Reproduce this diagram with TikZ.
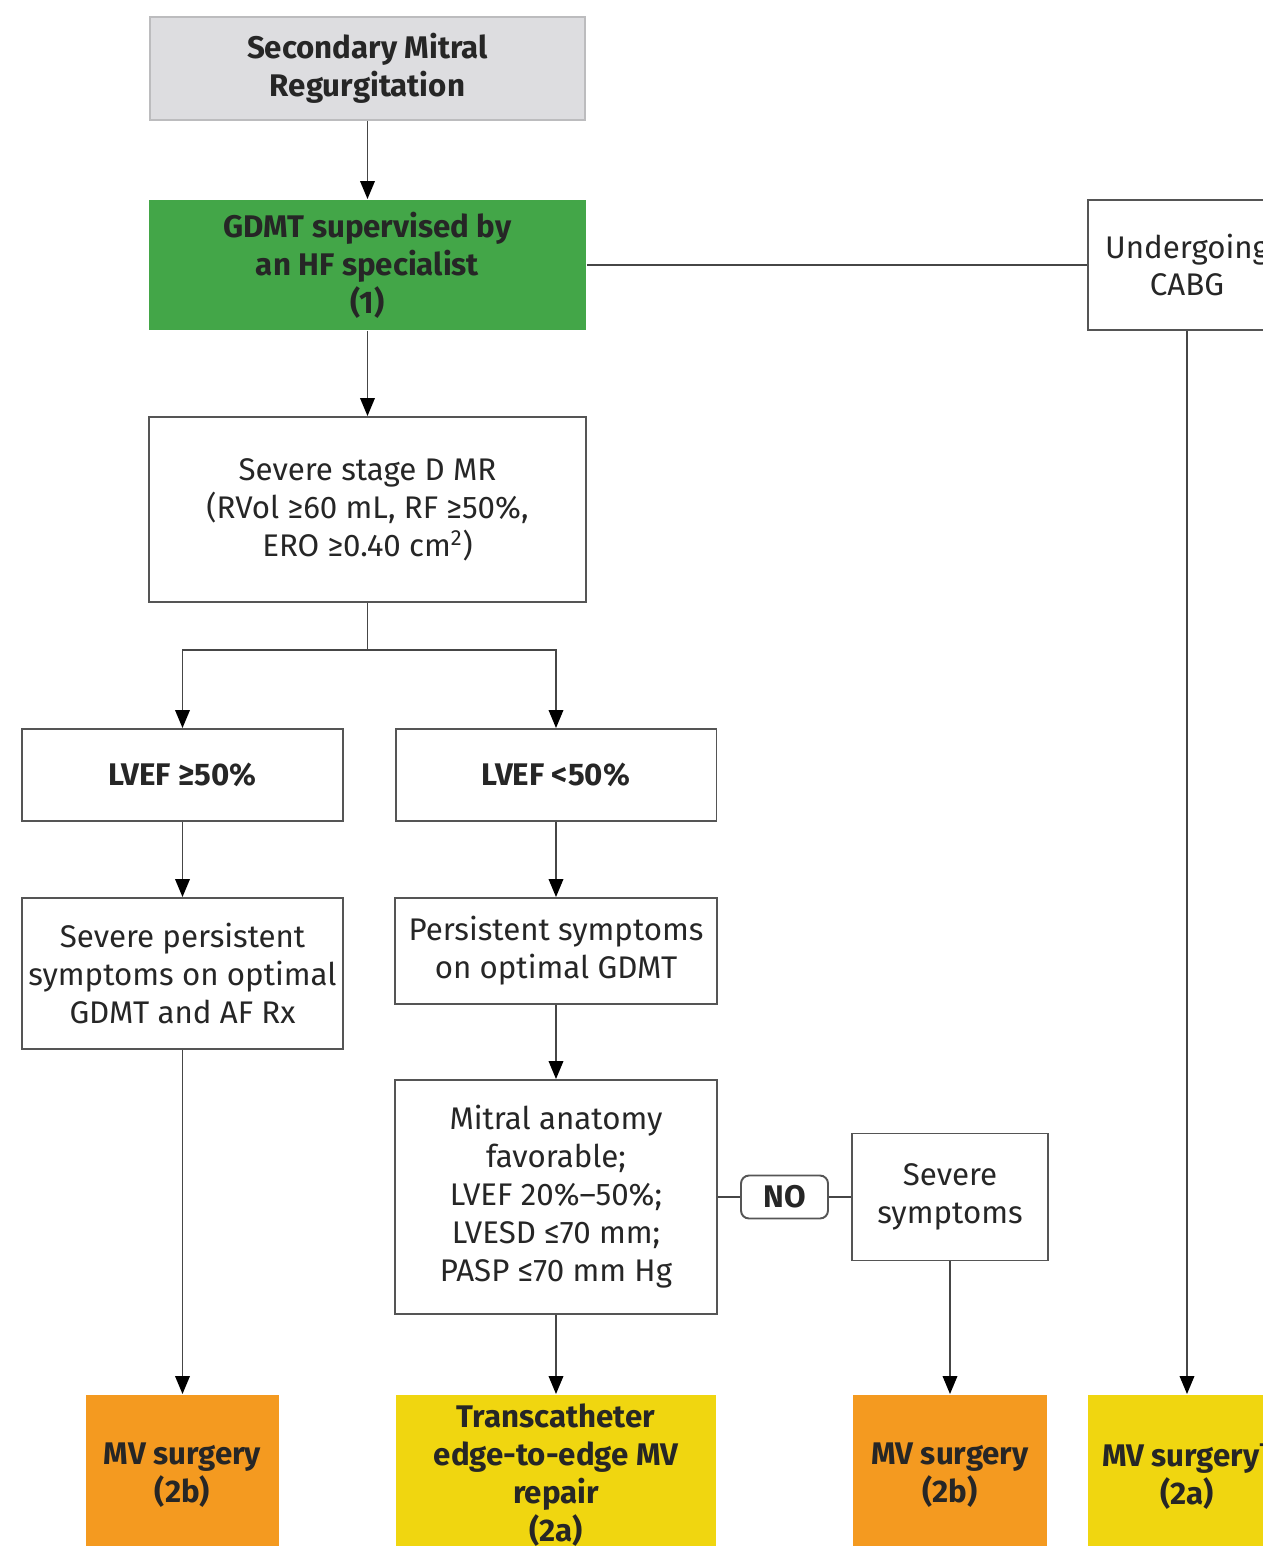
\documentclass[tikz,border=0pt]{standalone}
\usepackage{fontspec}
\setmainfont{Fira Sans}
\usetikzlibrary{arrows.meta}

\definecolor{smrgray}{RGB}{221,221,224}
\definecolor{gdmtgreen}{RGB}{67,166,72}
\definecolor{surgorange}{RGB}{244,154,32}
\definecolor{repairyellow}{RGB}{240,214,16}
\definecolor{boxline}{RGB}{85,85,85}
\definecolor{linkgray}{RGB}{70,70,70}

\tikzset{
  box/.style={draw=boxline, line width=1.1pt, fill=white, align=center, inner sep=0pt,
    text=black!85, font=\fontsize{17.8}{21.6}\selectfont},
  boldbox/.style={box, font=\fontsize{17.8}{21.6}\selectfont\bfseries},
  outcome/.style={boldbox, draw=none, minimum height=3.2cm},
  link/.style={draw=linkgray, line width=1.1pt},
  arrow/.style={link, -{Triangle[length=0.36cm, width=0.29cm, color=black]}},
}

\begin{document}
\begin{tikzpicture}[x=0.02cm, y=-0.02cm]
\useasboundingbox (0,0) rectangle (1263,1546);

\def\colL{182.5}
\def\colM{556}
\def\colR{950}
\def\colC{1187}

% top of the chart
\node[boldbox, fill=smrgray, draw=smrgray!85!black, minimum width=8.7cm, minimum height=2.06cm] (smr) at (367.5,68.5) {Secondary Mitral\\Regurgitation};
\node[boldbox, fill=gdmtgreen, draw=none, minimum width=8.74cm, minimum height=2.6cm] (gdmt) at (367.5,265) {GDMT supervised by\\an HF specialist\\(1)};
\node[box, minimum width=3.96cm, minimum height=2.6cm] (cabg) at (\colC,265) {Undergoing\\CABG};
\node[box, minimum width=8.76cm, minimum height=3.7cm] (stageD) at (367.5,509.5) {Severe stage D MR\\(RVol ≥60 mL, RF ≥50\%,\\ERO ≥0.40 cm\textsuperscript{2})};

% LVEF branches
\node[boldbox, minimum width=6.42cm, minimum height=1.84cm] (lvefhi) at (\colL,775) {LVEF ≥50\%};
\node[boldbox, minimum width=6.42cm, minimum height=1.84cm] (lveflo) at (\colM,775) {LVEF <50\%};
\node[box, minimum width=6.42cm, minimum height=3.02cm] (sevpers) at (\colL,973.5) {Severe persistent\\symptoms on optimal\\GDMT and AF Rx};
\node[box, minimum width=6.44cm, minimum height=2.12cm] (pers) at (\colM,951) {Persistent symptoms\\on optimal GDMT};
\node[box, minimum width=6.44cm, minimum height=4.68cm] (mitral) at (\colM,1197) {Mitral anatomy\\favorable;\\LVEF 20\%–50\%;\\LVESD ≤70 mm;\\PASP ≤70 mm Hg};
\node[boldbox, rounded corners=0.16cm, minimum width=1.74cm, minimum height=0.86cm] (no) at (784.5,1197) {NO};
\node[box, minimum width=3.92cm, minimum height=2.54cm] (sevsym) at (\colR,1197) {Severe\\symptoms};

% outcomes, cut off by the page edge
\node[outcome, fill=surgorange, minimum width=3.88cm] (mvl) at (\colL,1475) {MV surgery\\(2b)};
\node[outcome, fill=repairyellow, minimum width=6.42cm] (teer) at (\colM,1475) {Transcatheter\\edge-to-edge MV\\repair\\(2a)};
\node[outcome, fill=surgorange, minimum width=3.9cm] (mvm) at (\colR,1475) {MV surgery\\(2b)};
\node[outcome, fill=repairyellow, minimum width=3.96cm] (mvr) at (\colC,1475) {MV surgery\textsuperscript{†}\\(2a)};

\coordinate (split) at (367.5,650);

\draw[arrow] (smr) -- (gdmt);
\draw[link] (gdmt) -- (cabg);
\draw[arrow] (cabg) -- (mvr);
\draw[arrow] (gdmt) -- (stageD);
\draw[link] (stageD) -- (split);
\draw[arrow] (split) -| (lvefhi);
\draw[arrow] (split) -| (lveflo);
\draw[arrow] (lvefhi) -- (sevpers);
\draw[arrow] (sevpers) -- (mvl);
\draw[arrow] (lveflo) -- (pers);
\draw[arrow] (pers) -- (mitral);
\draw[arrow] (mitral) -- (teer);
\draw[link] (mitral) -- (no) -- (sevsym);
\draw[arrow] (sevsym) -- (mvm);

\end{tikzpicture}
\end{document}
